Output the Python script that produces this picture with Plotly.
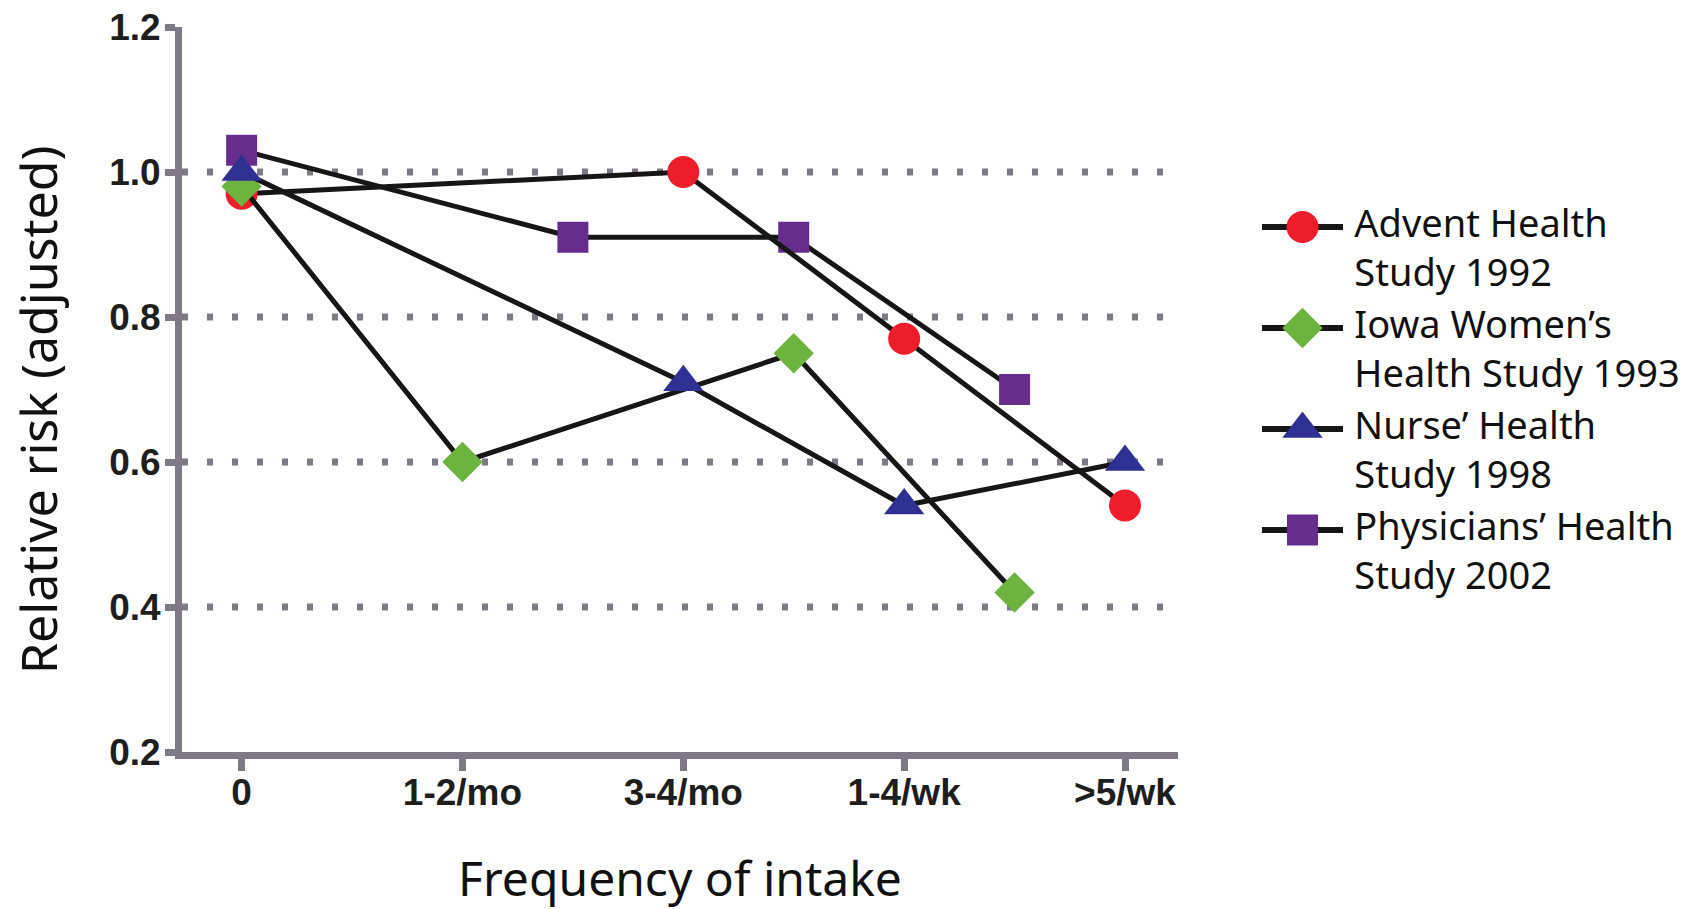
import plotly.graph_objects as go

# ---------------- data ----------------
categories = ["0", "1-2/mo", "3-4/mo", "1-4/wk", ">5/wk"]
cat_pos = [0, 1, 2, 3, 4]

study_names = [
    "Advent Health<br>Study 1992",
    "Iowa Women’s<br>Health Study 1993",
    "Nurse’ Health<br>Study 1998",
    "Physicians’ Health<br>Study 2002",
]

advent_x = [0, 2, 3, 4]
advent_rr = [0.97, 1.00, 0.77, 0.54]

iowa_x = [0, 1, 2.5, 3.5]
iowa_rr = [0.98, 0.60, 0.75, 0.42]

nurses_x = [0, 2, 3, 4]
nurses_rr = [1.00, 0.71, 0.54, 0.60]

physicians_x = [0, 1.5, 2.5, 3.5]
physicians_rr = [1.03, 0.91, 0.91, 0.70]

y_ticks = [0.2, 0.4, 0.6, 0.8, 1.0, 1.2]
grid_vals = [0.4, 0.6, 0.8, 1.0]

x_title = "Frequency of intake"
y_title = "Relative risk (adjusted)"

# ---------------- styles ----------------
colors = ["#ee1d2b", "#6cb33f", "#2e3192", "#662d8c"]
symbols = ["circle", "diamond", "triangle-up", "square"]
msizes = [32, 31, 35, 31]
axis_gray = "#7e7987"
title_font = "Noto Sans"
tick_font = "Liberation Sans"

W, H = 1694, 910
ML, MR, MT, MB = 182, 0, 27, 158
plot_right_px = 1178
main_dom_end = (plot_right_px - ML) / (W - ML - MR)

fig = go.Figure()

series = [
    (advent_x, advent_rr),
    (iowa_x, iowa_rr),
    (nurses_x, nurses_rr),
    (physicians_x, physicians_rr),
]
# draw order so that markers stack as in the reference (purple bottom, blue top)
draw_order = [3, 0, 1, 2]
for i in draw_order:
    xs, ys = series[i]
    fig.add_trace(go.Scatter(
        x=xs, y=ys, mode="lines+markers",
        name=study_names[i].replace("<br>", " "),
        line=dict(color="#161616", width=5),
        marker=dict(symbol=symbols[i], size=msizes[i], color=colors[i],
                    opacity=1, line=dict(width=0)),
        showlegend=False, xaxis="x", yaxis="y",
        cliponaxis=False,
    ))

# ---------------- custom legend (drawn on a hidden helper axis) ----------------
for idx, name in enumerate(study_names):
    ypos = -idx
    fig.add_trace(go.Scatter(
        x=[0, 0.5, 1], y=[ypos, ypos, ypos], mode="lines+markers",
        line=dict(color="#161616", width=6),
        marker=dict(symbol=symbols[idx], size=[0, msizes[idx], 0],
                    color=colors[idx], opacity=1, line=dict(width=0)),
        showlegend=False, hoverinfo="skip", xaxis="x2", yaxis="y2",
        cliponaxis=False,
    ))
    fig.add_trace(go.Scatter(
        x=[1.14], y=[ypos - 0.25], mode="text", text=[name],
        textposition="middle right",
        textfont=dict(family=title_font, size=38, color="#111111"),
        showlegend=False, hoverinfo="skip", xaxis="x2", yaxis="y2",
        cliponaxis=False,
    ))

# dotted horizontal reference lines
for v in grid_vals:
    fig.add_shape(type="line", xref="x domain", yref="y", x0=0, x1=1, y0=v, y1=v,
                  line=dict(color=axis_gray, width=7, dash="6px,19px"), layer="below")

legend_unit_px = 101.0
legend_top = (227 - MT) / legend_unit_px
legend_span = (H - MT - MB) / legend_unit_px

# y-axis title placed as a rotated annotation (sits slightly below the axis centre)
fig.add_annotation(
    text=y_title, textangle=-90, showarrow=False,
    xref="paper", yref="paper",
    x=(38 - ML) / (W - ML - MR), y=(H - MB - 410) / (H - MT - MB),
    xanchor="center", yanchor="middle",
    font=dict(family=title_font, size=50, color="#111111"),
)

fig.update_layout(
    width=W, height=H,
    margin=dict(l=ML, r=MR, t=MT, b=MB),
    paper_bgcolor="white", plot_bgcolor="white",
    showlegend=False,
    xaxis=dict(
        domain=[0, main_dom_end], range=[-0.27, 4.24],
        tickmode="array", tickvals=cat_pos, ticktext=categories,
        showline=True, linecolor=axis_gray, linewidth=7,
        ticks="outside", ticklen=12, tickwidth=7, tickcolor=axis_gray,
        ticklabelstandoff=-10,
        showgrid=False, zeroline=False,
        tickfont=dict(family=tick_font, size=37, color="#1e1e1e", weight="bold"),
        title=dict(text=x_title, standoff=58,
                   font=dict(family=title_font, size=48, color="#111111")),
        anchor="y",
    ),
    yaxis=dict(
        domain=[0, 1], range=[0.2, 1.2],
        tickmode="array", tickvals=y_ticks, tickformat=".1f",
        showline=True, linecolor=axis_gray, linewidth=7,
        ticks="outside", ticklen=10, tickwidth=7, tickcolor=axis_gray,
        ticklabelstandoff=-3,
        showgrid=False, zeroline=False,
        tickfont=dict(family=tick_font, size=37, color="#1e1e1e", weight="bold"),
        anchor="x",
    ),
    xaxis2=dict(domain=[(1262 - ML) / (W - ML - MR), 1.0],
                range=[0, (W - 1262) / 81.0], visible=False, anchor="y2"),
    yaxis2=dict(domain=[0, 1], range=[legend_top - legend_span, legend_top],
                visible=False, anchor="x2"),
)

fig.write_html("out.html")
